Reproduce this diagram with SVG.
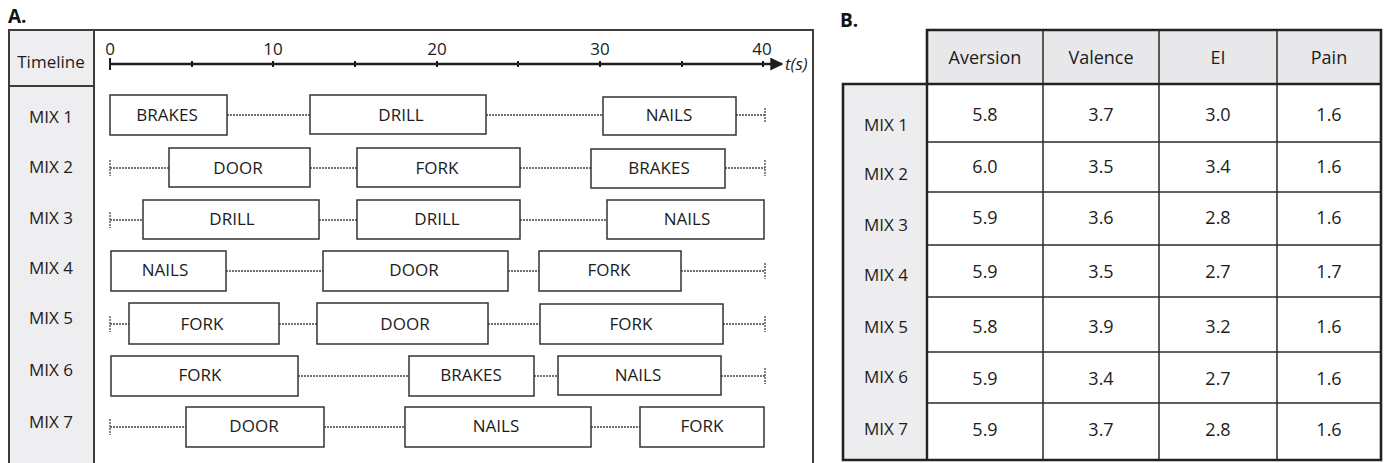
<svg xmlns="http://www.w3.org/2000/svg" width="1389" height="463" viewBox="0 0 1389 463">
<style>
text{font-family:"Open Sans","Liberation Sans",sans-serif;fill:#1c1c1c}
.t{font-size:17px;text-anchor:middle}
.h{font-size:19px;font-weight:bold;fill:#111}
.box{fill:#fff;stroke:#333;stroke-width:1.5}
.conn{stroke:#444;stroke-width:1.3;stroke-dasharray:2 1;fill:none}
.tick{stroke:#444;stroke-width:1.3;stroke-dasharray:2 1}
.axis{stroke:#1e1e1e;stroke-width:2.6}
.at{stroke:#1e1e1e;stroke-width:2}
.tv{font-size:18px;text-anchor:middle}
.tl{font-size:17px;text-anchor:middle}
.grid{stroke:#2a2a2a;stroke-width:1.5}
</style>
<defs>
<marker id="arr" viewBox="0 0 10 10" refX="9" refY="5" markerWidth="5" markerHeight="5" orient="auto" markerUnits="strokeWidth"><path d="M0,0 L10,5 L0,10 z" fill="#1e1e1e"/></marker>
</defs>
<rect width="1389" height="463" fill="#fff"/>
<!-- Panel A -->
<text class="h" x="8" y="23">A.</text>
<rect x="9" y="30" width="85" height="440" fill="#eeeef0"/>
<rect x="9" y="30" width="804" height="440" fill="none" stroke="#3c3c3c" stroke-width="2"/>
<line x1="94" y1="30" x2="94" y2="463" stroke="#3c3c3c" stroke-width="2"/>
<line x1="9" y1="86" x2="94" y2="86" stroke="#3c3c3c" stroke-width="2"/>
<text class="t" x="51" y="68">Timeline</text>
<g id="row-labels">
<text class="t" x="51" y="123">MIX 1</text>
<text class="t" x="51" y="173">MIX 2</text>
<text class="t" x="51" y="224">MIX 3</text>
<text class="t" x="51" y="274">MIX 4</text>
<text class="t" x="51" y="324">MIX 5</text>
<text class="t" x="51" y="376">MIX 6</text>
<text class="t" x="51" y="428">MIX 7</text>
</g>
<g id="axis">
<line class="axis" x1="110" y1="64" x2="782" y2="64" marker-end="url(#arr)"/>
<line class="at" x1="110" y1="58" x2="110" y2="70"/>
<line class="at" x1="192" y1="61" x2="192" y2="67"/>
<line class="at" x1="273" y1="61" x2="273" y2="67"/>
<line class="at" x1="355" y1="61" x2="355" y2="67"/>
<line class="at" x1="437" y1="61" x2="437" y2="67"/>
<line class="at" x1="518" y1="61" x2="518" y2="67"/>
<line class="at" x1="600" y1="61" x2="600" y2="67"/>
<line class="at" x1="682" y1="61" x2="682" y2="67"/>
<line class="at" x1="763" y1="61" x2="763" y2="67"/>
<text class="tl" x="110" y="55">0</text>
<text class="tl" x="273" y="55">10</text>
<text class="tl" x="437" y="55">20</text>
<text class="tl" x="600" y="55">30</text>
<text class="tl" x="762" y="55">40</text>
<text x="785" y="70" style="font-size:17px;font-style:italic">t(s)</text>
</g>
<g id="connectors">
<!-- MIX 1 -->
<line class="conn" x1="227" y1="115" x2="310" y2="115"/>
<line class="conn" x1="486" y1="115" x2="603" y2="115"/>
<line class="conn" x1="736" y1="115" x2="765" y2="115"/>
<line class="tick" x1="765" y1="108" x2="765" y2="123"/>
<!-- MIX 2 -->
<line class="tick" x1="110" y1="160" x2="110" y2="176"/>
<line class="conn" x1="110" y1="168" x2="169" y2="168"/>
<line class="conn" x1="310" y1="168" x2="357" y2="168"/>
<line class="conn" x1="520" y1="168" x2="591" y2="168"/>
<line class="conn" x1="725" y1="168" x2="765" y2="168"/>
<line class="tick" x1="765" y1="160" x2="765" y2="176"/>
<!-- MIX 3 -->
<line class="tick" x1="110" y1="212" x2="110" y2="228"/>
<line class="conn" x1="110" y1="220" x2="143" y2="220"/>
<line class="conn" x1="319" y1="220" x2="357" y2="220"/>
<line class="conn" x1="520" y1="220" x2="607" y2="220"/>
<!-- MIX 4 -->
<line class="conn" x1="226" y1="271" x2="323" y2="271"/>
<line class="conn" x1="508" y1="271" x2="539" y2="271"/>
<line class="conn" x1="681" y1="271" x2="765" y2="271"/>
<line class="tick" x1="765" y1="263" x2="765" y2="279"/>
<!-- MIX 5 -->
<line class="tick" x1="110" y1="316" x2="110" y2="332"/>
<line class="conn" x1="110" y1="324" x2="129" y2="324"/>
<line class="conn" x1="279" y1="324" x2="317" y2="324"/>
<line class="conn" x1="488" y1="324" x2="540" y2="324"/>
<line class="conn" x1="723" y1="324" x2="765" y2="324"/>
<line class="tick" x1="765" y1="316" x2="765" y2="332"/>
<!-- MIX 6 -->
<line class="conn" x1="298" y1="376" x2="409" y2="376"/>
<line class="conn" x1="534" y1="376" x2="558" y2="376"/>
<line class="conn" x1="721" y1="376" x2="765" y2="376"/>
<line class="tick" x1="765" y1="368" x2="765" y2="384"/>
<!-- MIX 7 -->
<line class="tick" x1="110" y1="419" x2="110" y2="435"/>
<line class="conn" x1="110" y1="427" x2="186" y2="427"/>
<line class="conn" x1="324" y1="427" x2="405" y2="427"/>
<line class="conn" x1="591" y1="427" x2="640" y2="427"/>
</g>
<!-- MIX 1 -->
<g id="m1-brakes"><rect class="box" x="110" y="95" width="117" height="40"/><text class="t" x="167" y="121">BRAKES</text></g>
<g id="m1-drill"><rect class="box" x="310" y="95" width="176" height="39"/><text class="t" x="401" y="121">DRILL</text></g>
<g id="m1-nails"><rect class="box" x="603" y="97" width="133" height="38"/><text class="t" x="669" y="121">NAILS</text></g>
<!-- MIX 2 -->
<g id="m2-door"><rect class="box" x="169" y="148" width="141" height="39"/><text class="t" x="238" y="174">DOOR</text></g>
<g id="m2-fork"><rect class="box" x="357" y="148" width="163" height="39"/><text class="t" x="437" y="174">FORK</text></g>
<g id="m2-brakes"><rect class="box" x="591" y="149" width="134" height="39"/><text class="t" x="659" y="174">BRAKES</text></g>
<!-- MIX 3 -->
<g id="m3-drill1"><rect class="box" x="143" y="200" width="176" height="39"/><text class="t" x="232" y="225">DRILL</text></g>
<g id="m3-drill2"><rect class="box" x="357" y="200" width="163" height="39"/><text class="t" x="437" y="225">DRILL</text></g>
<g id="m3-nails"><rect class="box" x="607" y="200" width="157" height="39"/><text class="t" x="687" y="225">NAILS</text></g>
<!-- MIX 4 -->
<g id="m4-nails"><rect class="box" x="111" y="251" width="115" height="40"/><text class="t" x="165" y="276">NAILS</text></g>
<g id="m4-door"><rect class="box" x="323" y="251" width="185" height="40"/><text class="t" x="414" y="276">DOOR</text></g>
<g id="m4-fork"><rect class="box" x="539" y="251" width="142" height="40"/><text class="t" x="609" y="276">FORK</text></g>
<!-- MIX 5 -->
<g id="m5-fork1"><rect class="box" x="129" y="303" width="150" height="41"/><text class="t" x="202" y="330">FORK</text></g>
<g id="m5-door"><rect class="box" x="317" y="303" width="171" height="41"/><text class="t" x="405" y="330">DOOR</text></g>
<g id="m5-fork2"><rect class="box" x="540" y="304" width="183" height="40"/><text class="t" x="631" y="330">FORK</text></g>
<!-- MIX 6 -->
<g id="m6-fork"><rect class="box" x="111" y="356" width="187" height="40"/><text class="t" x="200" y="381">FORK</text></g>
<g id="m6-brakes"><rect class="box" x="409" y="356" width="125" height="40"/><text class="t" x="471" y="381">BRAKES</text></g>
<g id="m6-nails"><rect class="box" x="558" y="356" width="163" height="39"/><text class="t" x="638" y="381">NAILS</text></g>
<!-- MIX 7 -->
<g id="m7-door"><rect class="box" x="186" y="407" width="138" height="40"/><text class="t" x="254" y="432">DOOR</text></g>
<g id="m7-nails"><rect class="box" x="405" y="407" width="186" height="40"/><text class="t" x="496" y="432">NAILS</text></g>
<g id="m7-fork"><rect class="box" x="640" y="407" width="124" height="40"/><text class="t" x="702" y="432">FORK</text></g>
<!-- Panel B -->
<text class="h" x="840" y="27">B.</text>
<g id="table">
<rect x="927" y="30" width="454" height="54" fill="#e8e8ea"/>
<rect x="843" y="84" width="84" height="376" fill="#ededef"/>
<line class="grid" x1="927" y1="142" x2="1381" y2="142"/>
<line class="grid" x1="927" y1="192" x2="1381" y2="192"/>
<line class="grid" x1="927" y1="245" x2="1381" y2="245"/>
<line class="grid" x1="927" y1="297" x2="1381" y2="297"/>
<line class="grid" x1="927" y1="352" x2="1381" y2="352"/>
<line class="grid" x1="927" y1="403" x2="1381" y2="403"/>
<line class="grid" x1="1043" y1="30" x2="1043" y2="460"/>
<line class="grid" x1="1159" y1="30" x2="1159" y2="460"/>
<line class="grid" x1="1277" y1="30" x2="1277" y2="460"/>
<path d="M927,84 V30 H1381 V460 H843 V84 H1381" fill="none" stroke="#222" stroke-width="2.6"/>
<line x1="927" y1="84" x2="927" y2="460" stroke="#222" stroke-width="2.4"/>
<g class="tv">
<text x="985" y="64">Aversion</text><text x="1101" y="64">Valence</text><text x="1218" y="64">EI</text><text x="1329" y="64">Pain</text>
<text x="985" y="121">5.8</text><text x="1101" y="121">3.7</text><text x="1218" y="121">3.0</text><text x="1329" y="121">1.6</text>
<text x="985" y="173">6.0</text><text x="1101" y="173">3.5</text><text x="1218" y="173">3.4</text><text x="1329" y="173">1.6</text>
<text x="985" y="224">5.9</text><text x="1101" y="224">3.6</text><text x="1218" y="224">2.8</text><text x="1329" y="224">1.6</text>
<text x="985" y="278">5.9</text><text x="1101" y="278">3.5</text><text x="1218" y="278">2.7</text><text x="1329" y="278">1.7</text>
<text x="985" y="333">5.8</text><text x="1101" y="333">3.9</text><text x="1218" y="333">3.2</text><text x="1329" y="333">1.6</text>
<text x="985" y="385">5.9</text><text x="1101" y="385">3.4</text><text x="1218" y="385">2.7</text><text x="1329" y="385">1.6</text>
<text x="985" y="436">5.9</text><text x="1101" y="436">3.7</text><text x="1218" y="436">2.8</text><text x="1329" y="436">1.6</text>
</g>
<g class="tl">
<text x="886" y="131">MIX 1</text>
<text x="886" y="180">MIX 2</text>
<text x="886" y="231">MIX 3</text>
<text x="886" y="281">MIX 4</text>
<text x="886" y="333">MIX 5</text>
<text x="886" y="383">MIX 6</text>
<text x="886" y="435">MIX 7</text>
</g>
</g>
</svg>
